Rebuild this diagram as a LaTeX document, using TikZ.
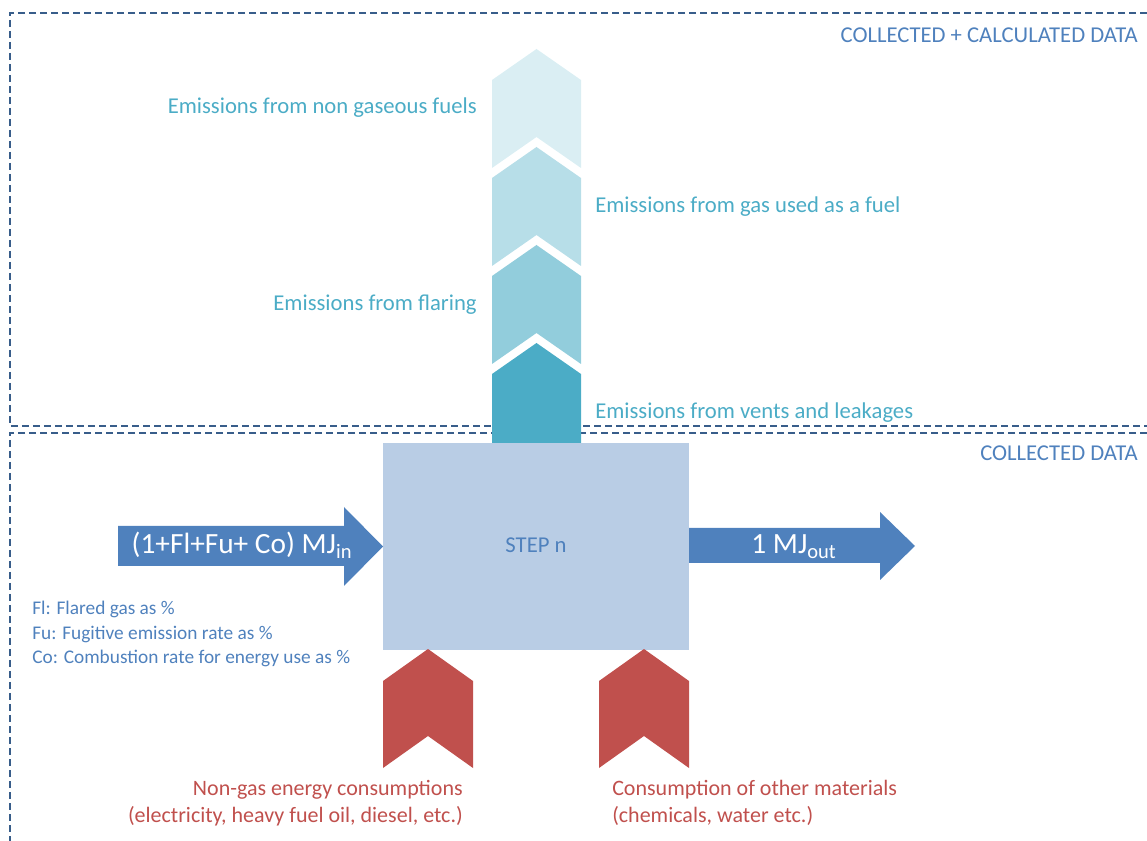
\documentclass[tikz,border=0pt]{standalone}
\usepackage{fontspec}
\setmainfont{Carlito}
\usepackage{tikz}
\usetikzlibrary{positioning}

\definecolor{zoneline}{HTML}{385D8A}
\definecolor{zonetext}{HTML}{4F81BD}
\definecolor{flowblue}{HTML}{4F81BD}
\definecolor{stepfill}{HTML}{B9CDE5}
\definecolor{aquaA}{HTML}{DAEEF3}
\definecolor{aquaB}{HTML}{B7DEE8}
\definecolor{aquaC}{HTML}{92CDDC}
\definecolor{aquaD}{HTML}{4BACC6}
\definecolor{inputred}{HTML}{C0504D}

\begin{document}
\begin{tikzpicture}[x=0.75pt, y=-0.75pt,
    zone/.style={draw=zoneline, line width=1.9pt, dash pattern=on 5.25pt off 3pt},
    zonelabel/.style={text=zonetext, font=\fontsize{17}{20}\selectfont, inner sep=0pt, anchor=east},
    stepbox/.style={fill=stepfill, minimum width=229.5pt, minimum height=155.25pt, inner sep=0pt},
    flowtext/.style={text=white, font=\fontsize{22}{26}\selectfont, inner sep=0pt, anchor=base},
    emission/.style={text=aquaD, font=\fontsize{17}{20}\selectfont, inner sep=0pt},
    inputtext/.style={text=inputred, font=\fontsize{16.5}{20.5}\selectfont, inner sep=0pt}]
\useasboundingbox (0,0) rectangle (1147,841);

% zones
\draw[zone] (1147,13) -- (10,13) -- (10,426) -- (1147,426);
\draw[zone] (1147,433) -- (10,433) -- (10,841);
\node[zonelabel] (calczone) at (1138,35) {COLLECTED + CALCULATED DATA};
\node[zonelabel] (colzone) at (1138,453) {COLLECTED DATA};

% emission chevrons
\fill[aquaA] (492,80) -- (536.5,49) -- (581,80) -- (581,168) -- (536.5,137) -- (492,168) -- cycle;
\fill[aquaB] (492,178) -- (536.5,147) -- (581,178) -- (581,266) -- (536.5,235) -- (492,266) -- cycle;
\fill[aquaC] (492,276) -- (536.5,245) -- (581,276) -- (581,364) -- (536.5,333) -- (492,364) -- cycle;
\fill[aquaD] (492,374) -- (536.5,343) -- (581,374) -- (581,444) -- (492,444) -- cycle;

\node[emission, anchor=east] (nonfuel) at (477,108) {Emissions from non gaseous fuels};
\node[emission, anchor=west] (gasfuel) at (595,207) {Emissions from gas used as a fuel};
\node[emission, anchor=east] (flaring) at (477,305) {Emissions from flaring};
\node[emission, anchor=west] (vents) at (595,413) {Emissions from vents and leakages};

% step
\node[stepbox] (step) at (536,546.5) {};
\node[text=flowblue, font=\fontsize{17}{20}\selectfont, inner sep=0pt] (steplabel) at (536,545) {STEP n};

% in and out flows
\fill[flowblue] (118,526) -- (344,526) -- (344,507) -- (383,546.5) -- (344,586) -- (344,566) -- (118,566) -- cycle;
\node[flowtext] (inflow) at (242,554) {(1+Fl+Fu+ Co) MJ\textsubscript{in}};
\fill[flowblue] (689,528) -- (880,528) -- (880,512) -- (915,546) -- (880,580) -- (880,563) -- (689,563) -- cycle;
\node[flowtext] (outflow) at (794,554) {1 MJ\textsubscript{out}};

\node[text=flowblue, font=\fontsize{14.5}{18.4}\selectfont, align=left, inner sep=0pt, anchor=north west] (notes) at (32,601)
  {Fl: Flared gas as \%\\Fu: Fugitive emission rate as \%\\Co: Combustion rate for energy use as \%};

% other inputs
\fill[inputred] (383,681) -- (428,649) -- (473,681) -- (473,768) -- (428,736) -- (383,768) -- cycle;
\fill[inputred] (599,681) -- (644,649) -- (689,681) -- (689,768) -- (644,736) -- (599,768) -- cycle;

\node[inputtext, align=right, anchor=north east] (energyuse) at (463,780)
  {Non-gas energy consumptions\\(electricity, heavy fuel oil, diesel, etc.)};
\node[inputtext, align=left, anchor=north west] (materials) at (612,780)
  {Consumption of other materials\\(chemicals, water etc.)};
\end{tikzpicture}
\end{document}
